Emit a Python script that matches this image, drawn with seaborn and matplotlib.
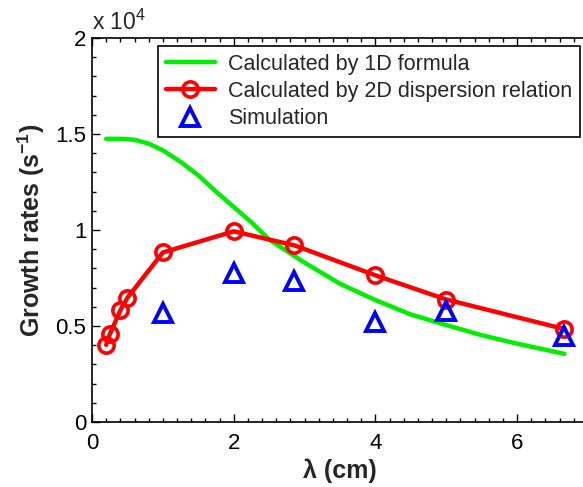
import matplotlib
matplotlib.use("Agg")
import matplotlib.pyplot as plt
import seaborn as sns
import numpy as np
from matplotlib.ticker import MultipleLocator, FuncFormatter

# data (growth rates in s^-1)
lam_1d = [0.2, 0.4, 0.6, 0.8, 1.0, 1.25, 1.5, 1.75, 2.0, 2.25, 2.5, 2.75, 3.0, 3.5, 4.0, 4.5, 5.0, 5.5, 6.0, 6.667]
gr_1d = [14750, 14750, 14700, 14500, 14150, 13550, 12850, 12000, 11200, 10400, 9500, 8900, 8300, 7200, 6350, 5600, 5050, 4520, 4080, 3550]

lam_2d = [0.2, 0.25, 0.4, 0.5, 1.0, 2.0, 2.857, 4.0, 5.0, 6.667]
gr_2d = [4020, 4560, 5820, 6470, 8830, 9930, 9200, 7640, 6380, 4840]

lam_sim = [1.0, 2.0, 2.857, 4.0, 5.0, 6.667]
gr_sim = [5680, 7760, 7330, 5200, 5800, 4480]

sns.set_style("white")
plt.rcParams['font.family'] = ['Liberation Sans', 'DejaVu Sans']
plt.rcParams['mathtext.fontset'] = 'custom'
plt.rcParams['mathtext.rm'] = 'Liberation Sans'
plt.rcParams['mathtext.bf'] = 'Liberation Sans:bold'

fig = plt.figure(figsize=(5.83, 4.87), dpi=100)
ax = fig.add_axes([92/583, (487-422)/487, (588-92)/583, 384/487])

sns.lineplot(x=lam_1d, y=gr_1d, ax=ax, color='#00ee00', linewidth=3.2,
             label='Calculated by 1D formula', sort=False)
sns.lineplot(x=lam_2d, y=gr_2d, ax=ax, color='red', linewidth=3.2, marker='o',
             markersize=11, markerfacecolor='none', markeredgecolor='red',
             markeredgewidth=2.6, label='Calculated by 2D dispersion relation', sort=False)
sns.lineplot(x=lam_sim, y=gr_sim, ax=ax, color='blue', linestyle='none', marker='^',
             markersize=13, markerfacecolor='none', markeredgecolor='blue',
             markeredgewidth=2.8, label='Simulation', sort=False)

ax.set_xlim(0, 7)
ax.set_ylim(0, 20000)
ax.xaxis.set_major_locator(MultipleLocator(2))
ax.xaxis.set_minor_locator(MultipleLocator(0.2))
ax.yaxis.set_major_locator(MultipleLocator(5000))
ax.yaxis.set_minor_locator(MultipleLocator(1000))
ax.yaxis.set_major_formatter(FuncFormatter(lambda v, p: f"{v/1e4:g}"))
ax.tick_params(which='both', direction='in', bottom=True, left=True, top=True, right=False,
               labelsize=16, colors='black')
ax.tick_params(axis='x', which='both', pad=8)
ax.tick_params(axis='y', which='both', pad=4)
ax.tick_params(which='major', length=6, width=1)
ax.tick_params(which='minor', length=3, width=1)
for s in ax.spines.values():
    s.set_color('black')
    s.set_linewidth(1.2)

ax.set_xlabel('λ (cm)', fontsize=18, fontweight='bold', labelpad=3)
ax.set_ylabel('Growth rates (s$^{\\mathbf{-1}}$)', fontsize=18, fontweight='bold', labelpad=6)
fig.text(92/583, 1-30/487, 'x 10$^{4}$', fontsize=16.5, ha='left', va='baseline')

leg = ax.legend(loc='upper left', bbox_to_anchor=(158/583, 1-46/487), bbox_transform=fig.transFigure,
                fontsize=15.5, frameon=True, fancybox=False, edgecolor='black', framealpha=1,
                handlelength=2.3, borderpad=0.35, labelspacing=0.3, handletextpad=0.6, borderaxespad=0)
leg.get_frame().set_linewidth(1.2)

fig.savefig('out.png', dpi=100)
